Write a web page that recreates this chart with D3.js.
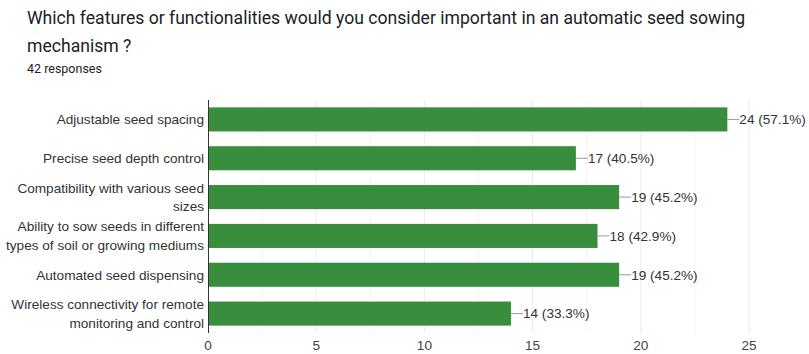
<!DOCTYPE html>
<html>
<head>
<meta charset="utf-8">
<script src="https://cdn.jsdelivr.net/npm/d3@7"></script>
<style>
  body { margin: 0; background: #fff; }
  svg { display: block; }
</style>
</head>
<body>
<svg id="chart" width="809" height="354"></svg>
<script>
// chart data
const categories = [
    ["Adjustable seed spacing"],
    ["Precise seed depth control"],
    ["Compatibility with various seed", "sizes"],
    ["Ability to sow seeds in different", "types of soil or growing mediums"],
    ["Automated seed dispensing"],
    ["Wireless connectivity for remote", "monitoring and control"]
];
const counts = [24, 17, 19, 18, 19, 14];
const percents = ["57.1%", "40.5%", "45.2%", "42.9%", "45.2%", "33.3%"];
const tickValues = [0, 5, 10, 15, 20, 25];
const gridValues = [2.5, 5, 7.5, 10, 12.5, 15, 17.5, 20, 22.5, 25];

const svg = d3.select("#chart");

// Title block
svg.append("text")
    .attr("x", 27).attr("y", 24)
    .style("font-family", "Roboto, sans-serif")
    .style("font-size", "17.6px")
    .attr("fill", "#202124")
    .text("Which features or functionalities would you consider important in an automatic seed sowing");
svg.append("text")
    .attr("x", 27).attr("y", 52)
    .style("font-family", "Roboto, sans-serif")
    .style("font-size", "17.6px")
    .attr("fill", "#202124")
    .text("mechanism ?");
svg.append("text")
    .attr("x", 27).attr("y", 73)
    .style("font-family", "Roboto, sans-serif")
    .style("font-size", "12.5px")
    .attr("fill", "#202124")
    .text("42 responses");

const x = d3.scaleLinear().domain([0, 25]).range([208, 749]);
const y = d3.scaleBand()
    .domain(d3.range(categories.length))
    .range([100, 333])
    .paddingInner(0.38)
    .paddingOuter(0.19);

// Gridlines
svg.append("g")
    .selectAll("line")
    .data(gridValues)
    .enter()
    .append("line")
    .attr("x1", d => x(d)).attr("x2", d => x(d))
    .attr("y1", 100).attr("y2", 333)
    .attr("stroke", d => d % 5 === 0 ? "#ebebeb" : "#f4f4f4")
    .attr("stroke-width", 1);

// Bars
svg.append("g")
    .selectAll("rect")
    .data(counts)
    .enter()
    .append("rect")
    .attr("x", x(0))
    .attr("y", (d, i) => y(i))
    .attr("width", d => x(d) - x(0))
    .attr("height", y.bandwidth())
    .attr("fill", "#388e3c");

// Baseline axis
svg.append("line")
    .attr("x1", x(0) + 0.5).attr("x2", x(0) + 0.5)
    .attr("y1", 100).attr("y2", 333)
    .attr("stroke", "#333").attr("stroke-width", 1);

// Value annotations with leader lines
const ann = svg.append("g")
    .selectAll("g")
    .data(counts)
    .enter()
    .append("g");
ann.append("line")
    .attr("x1", d => x(d)).attr("x2", d => x(d) + 12)
    .attr("y1", (d, i) => y(i) + y.bandwidth() / 2)
    .attr("y2", (d, i) => y(i) + y.bandwidth() / 2)
    .attr("stroke", "#999").attr("stroke-width", 1);
ann.append("text")
    .attr("x", d => x(d) + 12)
    .attr("y", (d, i) => y(i) + y.bandwidth() / 2)
    .attr("dy", "0.35em")
    .style("font-family", "Arial, 'Liberation Sans', sans-serif")
    .style("font-size", "13.6px")
    .attr("fill", "#333")
    .text((d, i) => d + " (" + percents[i] + ")");

// Category labels
const labels = svg.append("g")
    .selectAll("text")
    .data(categories)
    .enter()
    .append("text")
    .attr("text-anchor", "end")
    .style("font-family", "Arial, 'Liberation Sans', sans-serif")
    .style("font-size", "13.6px")
    .attr("fill", "#333");
labels.each(function(lines, i) {
    let cy = y(i) + y.bandwidth() / 2;
    let start = cy - (lines.length - 1) * 18.5 / 2;
    d3.select(this).selectAll("tspan")
        .data(lines)
        .enter()
        .append("tspan")
        .attr("x", 204)
        .attr("y", (d, j) => start + j * 18.5)
        .attr("dy", "0.35em")
        .text(d => d);
});

// X axis tick labels
svg.append("g")
    .selectAll("text")
    .data(tickValues)
    .enter()
    .append("text")
    .attr("x", d => x(d))
    .attr("y", 350)
    .attr("text-anchor", "middle")
    .style("font-family", "Arial, 'Liberation Sans', sans-serif")
    .style("font-size", "13.6px")
    .attr("fill", "#444")
    .text(d => d);
</script>
</body>
</html>
